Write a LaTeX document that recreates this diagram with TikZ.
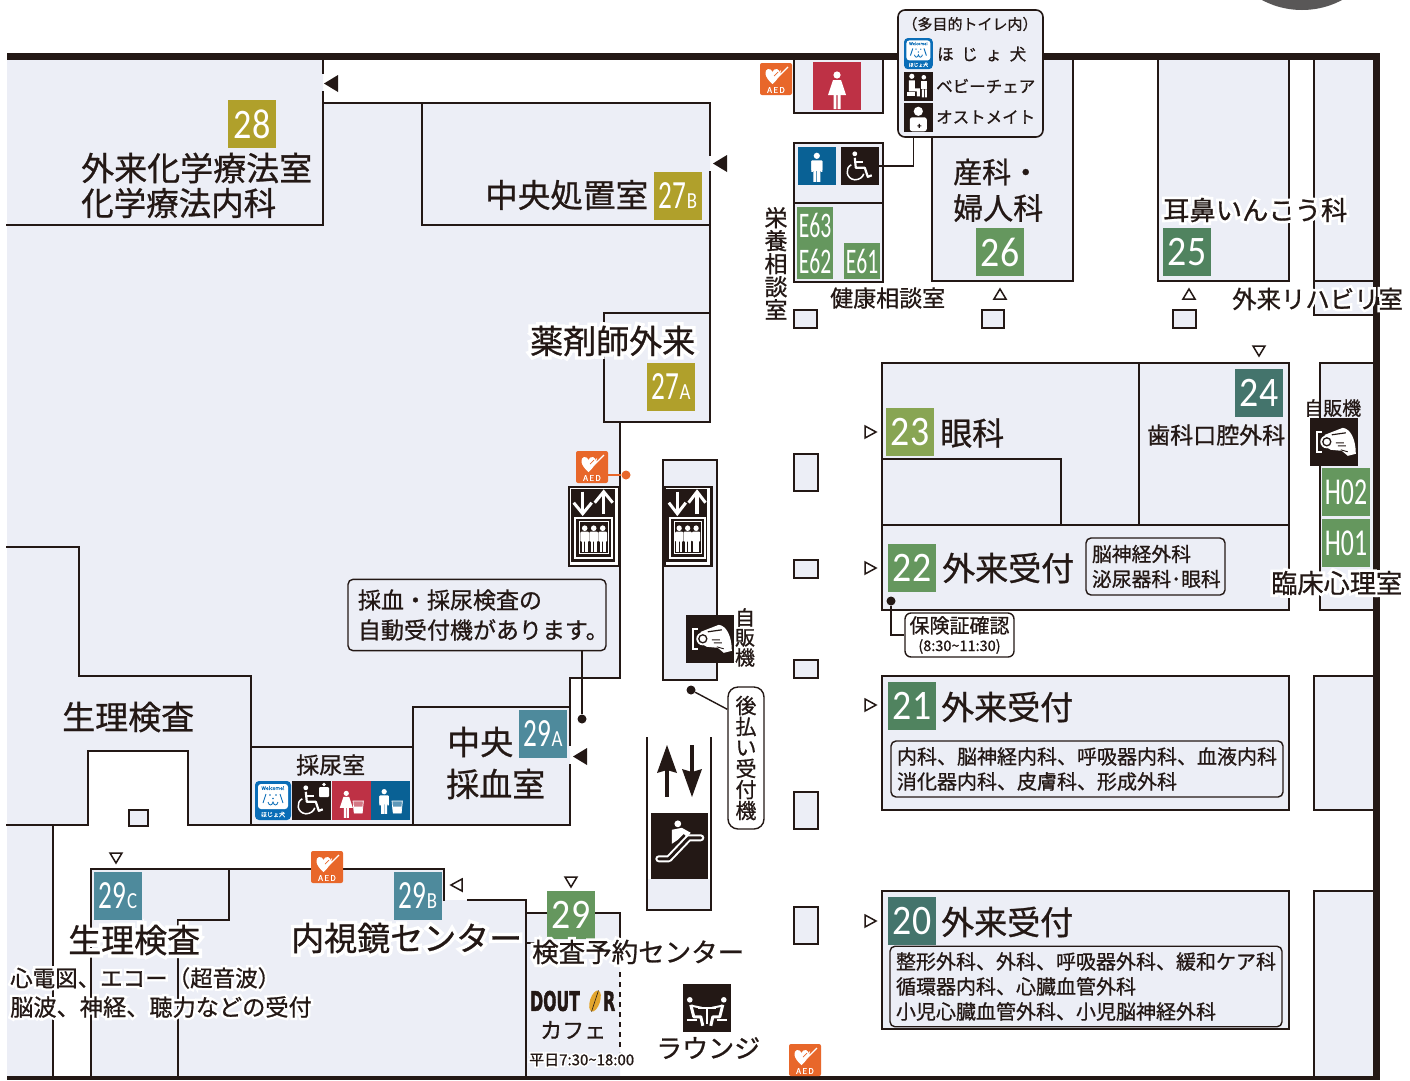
\documentclass[tikz,border=0pt]{standalone}
\usepackage{fontspec}
\usepackage{graphicx}
\usetikzlibrary{shapes.geometric}
\setmainfont[FakeBold=0.8]{Noto Sans CJK JP}
\newfontfamily\halofont[FakeBold=22]{Noto Sans CJK JP}
\newfontfamily\numf{Carlito}
\newfontfamily\doutf[FakeBold=2]{DejaVu Sans Bold}
\definecolor{ink}{HTML}{231815}
\definecolor{lav}{HTML}{ECEEF6}
\definecolor{olive}{HTML}{B0A02B}
\definecolor{gA}{HTML}{65975E}
\definecolor{gB}{HTML}{50835F}
\definecolor{gC}{HTML}{44746C}
\definecolor{gD}{HTML}{88A553}
\definecolor{tealx}{HTML}{4E8A9C}
\definecolor{aedo}{HTML}{E8672A}
\definecolor{redx}{HTML}{BE3145}
\definecolor{bluex}{HTML}{096195}
\definecolor{hojo}{HTML}{0A6DB7}
\definecolor{beanx}{HTML}{E3A52D}
\definecolor{greyx}{HTML}{595757}
\newcommand\hl[1]{\leavevmode\rlap{\textcolor{white}{\halofont #1}}#1}
\newcommand\sq[2][1]{\scalebox{#1}[1]{#2}}
\newcommand\plate[2]{\sq[.68]{\fontsize{40}{40}\selectfont #1}\kern.5pt\fontsize{23}{23}\selectfont\sq[.82]{#2}}
\tikzset{
  wall/.style={draw=ink,line width=2.8pt,line cap=rect,line join=miter},
  thick wall/.style={draw=ink,line width=7pt},
  fillzone/.style={fill=lav},
  roomrect/.style={fill=lav,draw=ink,line width=2.8pt},
  lab/.style={inner sep=0pt,anchor=west,text=ink,font=\fontsize{#1}{#1}\selectfont},
  ctr/.style={inner sep=0pt,anchor=center,text=ink,font=\fontsize{#1}{#1}\selectfont},
  vert/.style={inner sep=0pt,anchor=north,text=ink,align=center,font=\fontsize{#1}{#1}\selectfont},
  numbox/.style={fill=#1,minimum size=48pt,inner sep=0pt,text=white,font=\numf\fontsize{42}{42}\selectfont},
  smallbox/.style={fill=#1,inner sep=0pt,text=white,font=\numf\fontsize{36}{36}\selectfont},
  capt/.style={draw=ink,line width=1.4pt,rounded corners=5pt,fill=lav,inner sep=0pt,text=ink},
  conn/.style={draw=ink,line width=1.4pt},
  dotn/.style={circle,fill=ink,inner sep=0pt,minimum size=9pt},
  blk/.style={fill=ink,inner sep=0pt,minimum size=#1},
  tri/.style={fill=ink},
  otri/.style={draw=ink,line width=1.5pt,fill=white,line join=miter},
  pics/aedmark/.style={code={
    \fill[aedo,rounded corners=2pt] (0,0) rectangle (32,32);
    \fill[white] (12.5,21) .. controls (4,14) and (4,7) .. (8,6) .. controls (10,5.5) and (12,7) .. (12.5,9) .. controls (13,7) and (15,5.5) .. (17,6) .. controls (21,7) and (21,14) .. (12.5,21) -- cycle;
    \draw[white,line width=1.3pt] (14,15) -- (20,9) -- (19,13) -- (28,4);
    \draw[aedo,line width=.7pt] (14,13) -- (18,9);
    \node[inner sep=0pt,text=white,font=\fontsize{8}{8}\selectfont] (t) at (16,27) {A\,E\,D};
  }},
  pics/liftmark/.style={code={
    \fill[ink] (3,3) rectangle (47,76);
    \draw[white,line width=2pt] (7.5,32) rectangle (44.5,72);
    \draw[white,line width=1pt] (11.5,36) rectangle (40.5,68);
    \draw[white,line width=3.4pt] (15,6) -- (15,25);
    \draw[white,line width=3pt,line join=miter] (6,17) -- (15,28) -- (24,17);
    \draw[white,line width=3.4pt] (36,8) -- (36,28);
    \draw[white,line width=3pt,line join=miter] (27,17) -- (36,6) -- (45,17);
    \foreach \px in {17,26,35}{
      \fill[white] (\px,42.5) circle (2.8pt);
      \fill[white,rounded corners=1pt] (\px-4.4,46) rectangle (\px+4.4,56);
      \fill[white] (\px-3.2,55) rectangle (\px-.4,66);
      \fill[white] (\px+.4,55) rectangle (\px+3.2,66);
    }
  }},
  pics/vendmark/.style={code={
    \draw[white,line width=2.6pt,line join=miter] (12,14) -- (7,14) -- (7,34) -- (12,34);
    \fill[white] (15,17) -- (33,10) .. controls (41,11) and (46,22) .. (46,36) -- (38,38) -- (32,33) -- (21,32) -- (14,28) -- cycle;
    \draw[ink,line width=1.2pt] (22,17) -- (36,15);
    \fill[white] (17,24) circle (6.5pt);
    \draw[ink,line width=1.3pt] (17,24) circle (4pt);
    \draw[ink,line width=.9pt] (26,25) -- (34,25) (28,28) -- (36,28) (31,32) -- (38,34);
  }},
  pics/escmark/.style={code={
    \draw[white,line width=7pt,line cap=round,line join=round] (8,46) -- (18,46) -- (38,25) -- (50,25);
    \draw[ink,line width=3pt,line cap=round,line join=round] (8,46) -- (18,46) -- (38,25) -- (50,25);
    \fill[white] (27,11) circle (3.4pt);
    \fill[white] (21,17) -- (31,15) -- (40,20) -- (36,24) -- (33,21) -- (27,27) -- (21,31) -- cycle;
  }},
  pics/loungemark/.style={code={
    \fill[white] (7,16) circle (2.8pt) (41,16) circle (2.8pt);
    \draw[white,line width=3pt,line join=round] (8,21) -- (11,33) -- (18,33) -- (20,42);
    \draw[white,line width=3pt,line join=round] (40,21) -- (37,33) -- (30,33) -- (28,42);
    \draw[white,line width=2pt] (9,22) -- (19,24) (39,22) -- (29,24);
    \draw[white,line width=2.4pt] (15,24) -- (33,24) (24,24) -- (24,40);
    \draw[white,line width=2pt] (4,36) -- (14,36) (34,36) -- (44,36);
  }},
  pics/manmark/.style={code={
    \fill[white] (19,9) circle (3.1pt);
    \fill[white,rounded corners=1pt] (13.5,13.5) rectangle (24.5,24);
    \fill[white] (13.5,14) rectangle (15.2,25) (22.8,14) rectangle (24.5,25);
    \fill[white] (15.5,23) rectangle (18.6,35) (19.4,23) rectangle (22.5,35);
  }},
  pics/womanmark/.style={code={
    \fill[white] (24,13) circle (3.6pt);
    \fill[white] (20,18) -- (28,18) -- (33,33) -- (15,33) -- cycle;
    \fill[white] (20.5,32) rectangle (23.4,47) (24.6,32) rectangle (27.5,47);
  }},
  pics/chairmark/.style={code={
    \fill[white] (14,7) circle (2.4pt);
    \draw[white,line width=2.2pt,line join=round] (14,11) -- (15,21) -- (24,21) -- (27,30) -- (31,28.5);
    \draw[white,line width=1.8pt] (14,15) -- (22,15);
    \draw[white,line width=1.5pt] (10.5,18) .. controls (4,21) and (5,32) .. (14,33) .. controls (19,33) and (22,30) .. (23,27);
  }},
  pics/cupmark/.style={code={
    \fill[white,opacity=.35] (0,0) -- (13,0) -- (11.5,15) -- (1.5,15) -- cycle;
    \fill[white] (.8,7) -- (12.2,7) -- (11.5,15) -- (1.5,15) -- cycle;
    \draw[white,line width=.7pt] (0,0) -- (13,0) -- (11.5,15) -- (1.5,15) -- cycle;
  }},
  pics/hojomark/.style={code={
    \fill[hojo,rounded corners=4pt] (0,0) rectangle (36,39);
    \fill[white,rounded corners=3pt] (3,3) rectangle (33,28);
    \node[inner sep=0pt,text=hojo,transform shape,font=\fontsize{5}{5}\selectfont] (w) at (18,7) {Welcome!};
    \draw[hojo,line width=.9pt] (8,22) -- (11,13) (28,22) -- (25,13);
    \fill[hojo] (15,14) circle (.9pt) (21,14) circle (.9pt) (18,17.5) circle (.9pt);
    \draw[hojo,line width=.8pt] (13,21) .. controls (14,25) and (17,25) .. (18,21) .. controls (19,25) and (22,25) .. (23,21);
    \node[inner sep=0pt,text=white,transform shape,font=\fontsize{6}{6}\selectfont] (h) at (18,33.5) {ほじょ犬};
  }},
  pics/babymark/.style={code={
    \fill[white] (8,5) circle (2.6pt) (20,6) circle (2.3pt);
    \fill[white] (5,9) -- (11,9) -- (11,17) -- (16,17) -- (16,25) -- (13,25) -- (13,20) -- (5,20) -- cycle;
    \fill[white] (3,21) rectangle (11,25);
    \fill[white] (17,10) rectangle (23,18);
    \fill[white] (18,18) rectangle (20,26) (21,18) rectangle (23,26);
  }},
  pics/ostomark/.style={code={
    \fill[white] (14.5,9) circle (4.6pt);
    \fill[white,rounded corners=2.5pt] (6,15) rectangle (23,29);
    \fill[ink] (14.9,21.5) rectangle (16.1,25.5) (13.5,23) rectangle (17.5,24);
  }},
}
\begin{document}
\begin{tikzpicture}[x=1pt,y=-1pt]
\useasboundingbox (0,0) rectangle (1410,1080);
\fill[white] (0,0) rectangle (1410,1080);
% grey disc at the top
\begin{scope}
  \clip (0,0) rectangle (1410,1080);
  \fill[greyx] (1302,-75) circle (85pt);
\end{scope}
% lavender zones
\fill[fillzone] (7,60) -- (323,60) -- (323,103) -- (710,103) -- (710,422) -- (620,422) -- (620,678) -- (570,678) -- (570,825) -- (188,825) -- (188,751) -- (88,751) -- (88,825) -- (7,825) -- cycle;
\fill[fillzone] (7,825) rectangle (53,1076);
\fill[fillzone] (91,869) -- (444,869) -- (444,900) -- (526,900) -- (526,913) -- (620,913) -- (620,1076) -- (91,1076) -- cycle;
\fill[fillzone] (794,60) rectangle (883,113);
\fill[fillzone] (932,60) rectangle (1073,281);
\fill[fillzone] (1158,60) rectangle (1289,281);
\fill[fillzone] (1314,60) rectangle (1373,315);
\fill[fillzone] (1320,363) rectangle (1373,610);
\fill[fillzone] (1314,676) rectangle (1373,810);
\fill[fillzone] (1314,891) rectangle (1373,1076);
\fill[fillzone] (663,460) rectangle (717,680);
\fill[fillzone] (647,879) rectangle (711,910);
% thin walls
\draw[wall] (323,60) -- (323,73) (323,92) -- (323,225) -- (7,225);
\draw[wall] (323,103) -- (710,103) -- (710,155) (710,172) -- (710,422) -- (604,422) -- (604,313) -- (710,313);
\draw[wall] (422,103) -- (422,225) -- (710,225);
\draw[wall] (620,422) -- (620,678) -- (570,678) -- (570,745) (570,765) -- (570,825) -- (188,825) -- (188,751) -- (88,751) -- (88,825) -- (7,825);
\draw[wall] (7,547) -- (79,547) -- (79,676) -- (251,676) -- (251,825);
\draw[wall] (251,747) -- (413,747) (413,707) -- (413,825) (413,707) -- (570,707);
\draw[wall] (53,825) -- (53,1076);
\draw[wall] (91,1076) -- (91,869) -- (444,869) -- (444,900) (468,900) -- (526,900) -- (526,1076);
\draw[wall] (229,869) -- (229,920) -- (178,920) -- (178,1076);
\draw[wall] (526,913) -- (620,913) -- (620,960);
\draw[wall] (526,943) -- (534,943);
\draw[wall,dashed,dash pattern=on 5pt off 5pt,line cap=butt] (620,962) -- (620,1052);
\draw[wall] (794,60) -- (794,113) -- (883,113) -- (883,60);
\draw[wall] (932,137) -- (932,281) -- (1073,281) -- (1073,60);
\draw[wall] (1158,60) -- (1158,281) -- (1289,281) -- (1289,60);
\draw[wall] (1314,60) -- (1314,315) -- (1373,315) (1314,281) -- (1373,281);
\draw[roomrect] (794,143) rectangle (883,282);
\draw[wall] (794,203) -- (883,203);
\draw[roomrect] (882,363) rectangle (1289,610);
\draw[wall] (882,459) -- (1061,459) -- (1061,525) (882,525) -- (1289,525) (1139,363) -- (1139,525);
\draw[wall] (1373,363) -- (1320,363) -- (1320,610) -- (1373,610);
\draw[roomrect] (882,676) rectangle (1289,810);
\draw[roomrect] (882,891) rectangle (1289,1029);
\draw[wall] (1373,676) -- (1314,676) -- (1314,810) -- (1373,810);
\draw[wall] (1373,891) -- (1314,891) -- (1314,1076);
\draw[wall] (663,460) rectangle (717,680);
\draw[wall] (647,738) -- (647,910) -- (711,910) -- (711,738);
% free-standing small rooms
\foreach \a/\b/\c/\d in {794/310/817/328,982/310/1004/328,1173/310/1196/328,794/454/818/491,794/560/818/578,794/660/818/678,794/792/818/829,794/907/818/944}
  \draw[roomrect] (\a,\b) rectangle (\c,\d);
\draw[roomrect] (129,810) rectangle (148,826);
% outer thick walls
\draw[thick wall] (7,56.5) -- (1380,56.5);
\draw[draw=ink,line width=6.5pt] (1376.5,53) -- (1376.5,1080);
\fill[ink] (7,1076) rectangle (1380,1080);
% triangles
\fill[tri] (338,75) -- (324,83.5) -- (338,92) -- cycle;
\fill[tri] (727,155) -- (713,163.5) -- (727,172) -- cycle;
\fill[tri] (587,748) -- (573,756.5) -- (587,765) -- cycle;
\draw[otri] (994,299) -- (1000,289) -- (1006,299) -- cycle;
\draw[otri] (1183,299) -- (1189,289) -- (1195,299) -- cycle;
\draw[otri] (1253,346) -- (1259,356) -- (1265,346) -- cycle;
\draw[otri] (110,853) -- (116,863) -- (122,853) -- cycle;
\draw[otri] (565,877) -- (571,887) -- (577,877) -- cycle;
\draw[otri] (462,879) -- (451,885) -- (462,891) -- cycle;
\foreach \ty in {432,568,705,921}
  \draw[otri] (865,\ty-6) -- (876,\ty) -- (865,\ty+6) -- cycle;
% number plates
\node[numbox=olive] (n28) at (252,124) {\sq[.86]{28}};
\node[numbox=olive] (n27b) at (678,196) {\plate{27}{B}};
\node[numbox=olive] (n27a) at (671,387) {\plate{27}{A}};
\node[numbox=gA] (n26) at (1000,252) {\sq[.9]{26}};
\node[numbox=gB] (n25) at (1187,252) {\sq[.9]{25}};
\node[numbox=gC] (n24) at (1259,393) {\sq[.9]{24}};
\node[numbox=gD] (n23) at (910,432) {\sq[.9]{23}};
\node[numbox=gA] (n22) at (912,568) {\sq[.9]{22}};
\node[numbox=gB] (n21) at (912,706) {\sq[.9]{21}};
\node[numbox=gC] (n20) at (912,921) {\sq[.9]{20}};
\node[numbox=tealx] (n29a) at (543,734) {\plate{29}{A}};
\node[numbox=tealx] (n29b) at (418,896) {\plate{29}{B}};
\node[numbox=tealx] (n29c) at (118,896) {\plate{29}{C}};
\node[numbox=gA] (n29) at (571,915) {\sq[.9]{29}};
\node[smallbox=gA,minimum width=36pt,minimum height=36pt] (e63) at (815,225) {\sq[.6]{E63}};
\node[smallbox=gA,minimum width=36pt,minimum height=36pt] (e62) at (815,261) {\sq[.6]{E62}};
\node[smallbox=gA,minimum width=36pt,minimum height=36pt] (e61) at (862,261) {\sq[.6]{E61}};
\node[numbox=gA,font=\numf\fontsize{38}{38}\selectfont] (h02) at (1346,492) {\sq[.68]{H02}};
\node[numbox=gA,font=\numf\fontsize{38}{38}\selectfont] (h01) at (1346,543) {\sq[.68]{H01}};
% icons: toilets and facilities
\fill[redx] (813,62) rectangle (861,110);
\pic at (813,62) {womanmark};
\node[blk=38pt,fill=bluex] (manb) at (817,166) {};
\pic at (manb.north west) {manmark};
\node[blk=38pt] (wc) at (860,166) {};
\pic at (wc.north west) {chairmark};
% AED
\pic at (760,63) {aedmark};
\pic (aedb) at (576,451) {aedmark};
\pic at (311,851) {aedmark};
\pic at (789,1044) {aedmark};
\node[circle,fill=aedo,inner sep=0pt,minimum size=9pt] (aeddot) at (626,475) {};
\draw[aedo,line width=1.3pt] (aeddot) -- (607,475);
% lifts
\node[fill=white,draw=ink,line width=2.6pt,inner sep=0pt,minimum width=50pt,minimum height=79pt] (lift1) at (594,526.5) {};
\pic at (lift1.north west) {liftmark};
\node[fill=white,draw=ink,line width=2.6pt,inner sep=0pt,minimum width=47pt,minimum height=79pt] (lift2) at (688,526.5) {};
\pic[xscale=.94] at (lift2.north west) {liftmark};
% vending
\node[blk=48pt] (vend1) at (710,639) {};
\pic at (vend1.north west) {vendmark};
\node[blk=48pt] (vend2) at (1334,442) {};
\pic at (vend2.north west) {vendmark};
\node[vert=20] (vlab1) at (745,608) {自\\販\\機};
\node[lab=19] (vlab2) at (1304,408) {自販機};
% escalator
\node[fill=ink,inner sep=0pt,minimum width=57pt,minimum height=66pt] (esc) at (679.5,846) {};
\pic at (esc.north west) {escmark};
\draw[ink,line width=4pt] (667,770) -- (667,797);
\fill[ink] (667,745) -- (677,773) -- (667,770) -- (657,773) -- cycle;
\draw[ink,line width=4pt] (692,745) -- (692,772);
\fill[ink] (692,797) -- (702,769) -- (692,772) -- (682,769) -- cycle;
% lounge
\node[blk=48pt] (lounge) at (707,1008) {};
\pic at (lounge.north west) {loungemark};
\node[lab=26] (loungelab) at (656,1048) {ラウンジ};
% urine room icons
\pic[scale=1] at (255,781) {hojomark};
\node[blk=39pt,minimum height=39pt] (ic2) at (311.5,800.5) {};
\pic at (ic2.north west) {chairmark};
\fill[white,rounded corners=1pt] (319,787) rectangle (329,797);
\fill[white] (324,784.5) circle (1.8pt);
\node[blk=39pt,fill=redx] (ic3) at (351.5,800.5) {};
\pic[scale=.72] at (329,784) {womanmark};
\pic[scale=.8] at (353,801) {cupmark};
\node[blk=39pt,fill=bluex] (ic4) at (390.5,800.5) {};
\pic[scale=.85] at (368,784) {manmark};
\pic[scale=.8] at (392,801) {cupmark};
% legend
\node[capt,draw=ink,minimum width=145pt,minimum height=127pt,rounded corners=7pt,line width=1.6pt] (legend) at (970.5,73.5) {};
\node[ctr=15] (lg0) at (970,24) {（多目的トイレ内）};
\pic[scale=.8] at (904,38) {hojomark};
\node[lab=16.5] (lg1) at (937,54) {\makebox[89pt][s]{ほ\hfil じ\hfil ょ\hfil 犬}};
\node[blk=29pt] (lg2i) at (918.5,86) {};
\pic at (lg2i.north west) {babymark};
\node[lab=16.5] (lg2) at (936,86) {ベビーチェア};
\node[blk=29pt] (lg3i) at (918.5,117) {};
\pic at (lg3i.north west) {ostomark};
\node[lab=16.5] (lg3) at (936,117) {オストメイト};
\draw[conn] ([xshift=16pt]legend.south west) |- (wc.east);
% callouts
\node[capt,text width=238pt,inner sep=10pt,minimum height=70pt,align=left,font=\fontsize{23}{30}\selectfont] (callA) at (477,615) {採血・採尿検査の\\自動受付機があります。};
\node[dotn] (dotA) at (582,719) {};
\draw[conn] ([xshift=105pt]callA.south) -- (dotA);
\node[dotn] (dotB) at (691,690) {};
\node[capt,fill=white,rounded corners=10pt,minimum width=36pt,minimum height=142pt,align=center,font=\fontsize{21}{21}\selectfont] (pay) at (746,758) {後\\払\\い\\受\\付\\機};
\draw[conn] (dotB) -- ([yshift=-23pt]pay.north west);
\node[dotn] (dotC) at (891,601) {};
\node[capt,fill=white,rounded corners=6pt,minimum width=109pt,minimum height=44pt,align=center,font=\fontsize{20}{19}\selectfont] (ins) at (959.5,635) {保険証確認\\[-1pt]{\fontsize{14.5}{15}\selectfont (8:30\textasciitilde 11:30)}};
\draw[conn] (dotC) |- (ins.west);
\node[capt,minimum width=139pt,minimum height=57pt,text width=127pt,inner sep=6pt,align=left,font=\fontsize{19.8}{25}\selectfont] (dept22) at (1155.5,566.5) {脳神経外科\\泌尿器科･眼科};
\node[capt,minimum width=392pt,minimum height=56pt,text width=380pt,inner sep=6pt,align=left,font=\fontsize{20}{25}\selectfont] (dept21) at (1087,769) {内科、脳神経内科、呼吸器内科、血液内科\\消化器内科、皮膚科、形成外科};
\node[capt,minimum width=392pt,minimum height=75pt,text width=380pt,inner sep=6pt,align=left,font=\fontsize{20}{25}\selectfont] (dept20) at (1086,986.5) {整形外科、外科、呼吸器外科、緩和ケア科\\循環器内科、心臓血管外科\\小児心臓血管外科、小児脳神経外科};
% labels
\node[lab=33] (l1) at (81,168) {外来化学療法室};
\node[lab=32.5] (l2) at (81,203) {化学療法内科};
\node[lab=32.6] (l3) at (485,195) {中央処置室};
\node[lab=33] (l4) at (530,341) {\hl{薬剤師外来}};
\node[lab=33] (l5) at (62,717) {生理検査};
\node[lab=33] (l6) at (447,742) {中央};
\node[lab=33] (l7) at (446,784) {採血室};
\node[lab=23] (l8) at (296,765) {採尿室};
\node[lab=33] (l9) at (68,940) {\hl{生理検査}};
\node[lab=33] (l10) at (291,938) {\hl{内視鏡センター}};
\node[lab=22.5] (l11) at (10,978) {\hl{心電図、エコー（超音波）}};
\node[lab=23.2] (l12) at (10,1007) {\hl{脳波、神経、聴力などの受付}};
\node[lab=26.5] (l13) at (532,952) {\hl{検査予約センター}};
\node[lab=22] (l14) at (540,1030) {カフェ};
\node[lab=15] (l15) at (529,1060) {\hl{平日7:30\textasciitilde 18:00}};
\node[vert=23,text width=23pt] (l16) at (776,207) {栄\\養\\相\\談\\室};
\node[lab=23] (l17) at (830,298) {健康相談室};
\node[lab=29] (l18) at (953,172) {産科・};
\node[lab=30] (l19) at (953,208) {婦人科};
\node[lab=26.3] (l20) at (1163,210) {\hl{耳鼻いんこう科}};
\node[lab=24.4] (l21) at (1232,299) {\hl{外来リハビリ室}};
\node[lab=32] (l22) at (940,433) {眼科};
\node[lab=23] (l23) at (1147,435) {歯科口腔外科};
\node[lab=33] (l24) at (942,568) {外来受付};
\node[lab=33] (l25) at (941,707) {外来受付};
\node[lab=33] (l26) at (941,922) {外来受付};
\node[lab=26.2] (l27) at (1271,583) {\hl{臨床心理室}};
% Doutor mark
\node[inner sep=0pt,anchor=west,text=ink,font=\doutf\fontsize{27}{27}\selectfont] (dout) at (530,1001) {\sq[.58]{DOUT}};
\node[rotate=-18,fill=beanx,ellipse,inner sep=0pt,minimum width=10pt,minimum height=22pt] (bean) at (595,1001) {};
\draw[ink,line width=.6pt] (bean.north) -- (bean.south);
\node[inner sep=0pt,anchor=west,text=ink,font=\doutf\fontsize{27}{27}\selectfont] (doutr) at (603,1001) {\sq[.58]{R}};
\end{tikzpicture}
\end{document}
